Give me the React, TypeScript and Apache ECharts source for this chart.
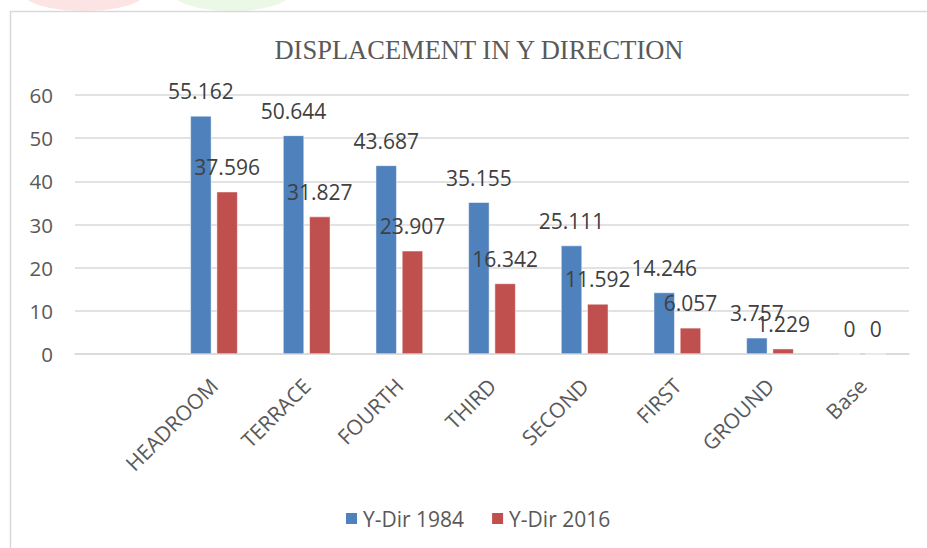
import React, { useEffect, useRef } from "react";
import * as echarts from "echarts";

const categories = ["", "HEADROOM", "TERRACE", "FOURTH", "THIRD", "SECOND", "FIRST", "GROUND", "Base"];
const yDir1984 = [null, 55.162, 50.644, 43.687, 35.155, 25.111, 14.246, 3.757, 0];
const yDir2016 = [null, 37.596, 31.827, 23.907, 16.342, 11.592, 6.057, 1.229, 0];
const seriesNames = ["Y-Dir 1984", "Y-Dir 2016"];
const titleText = "DISPLACEMENT IN Y DIRECTION";

const FONT = "'Open Sans', sans-serif";

export default function App() {
  const ref = useRef<HTMLDivElement>(null);
  useEffect(() => {
    document.body.style.margin = "0";
    const chart = echarts.init(ref.current!, null, { renderer: "svg" });
    const labelStyle = {
      show: true,
      position: "top" as const,
      distance: 14,
      fontFamily: FONT,
      fontSize: 21,
      color: "#404040",
      formatter: (p: any) => String(p.value),
    };
    chart.setOption({
      animation: false,
      backgroundColor: "#ffffff",
      title: {
        text: titleText,
        left: 474,
        textAlign: "center",
        top: 31,
        textStyle: {
          fontFamily: "'Liberation Serif', 'Times New Roman', serif",
          fontSize: 26.5,
          fontWeight: "normal",
          color: "#595959",
        },
      },
      graphic: [
        { type: "ellipse", shape: { cx: 84, cy: -8, rx: 62, ry: 19 }, style: { fill: "#fde4e4" }, silent: true },
        { type: "ellipse", shape: { cx: 232, cy: -8, rx: 60, ry: 19 }, style: { fill: "#ecf8e6" }, silent: true },
        {
          type: "rect",
          shape: { x: 10.5, y: 11.5, width: 940, height: 560 },
          style: { fill: "none", stroke: "#d9d9d9", lineWidth: 1.5 },
          silent: true,
        },
      ],
      grid: { left: 75, right: 18, top: 95, bottom: 194, containLabel: false },
      legend: {
        top: 503,
        left: 339,
        itemWidth: 13,
        itemHeight: 13,
        itemGap: 26,
        icon: "rect",
        textStyle: { fontFamily: FONT, fontSize: 21, color: "#595959" },
        data: seriesNames,
      },
      xAxis: {
        type: "category",
        data: categories,
        axisTick: { show: false },
        axisLine: { lineStyle: { color: "#d9d9d9", width: 1.5 } },
        axisLabel: {
          rotate: 45,
          margin: 28,
          interval: 0,
          fontFamily: FONT,
          fontSize: 21,
          color: "#595959",
        },
      },
      yAxis: {
        type: "value",
        min: 0,
        max: 60,
        interval: 10,
        axisLine: { show: false },
        axisTick: { show: false },
        splitLine: { lineStyle: { color: "#d9d9d9", width: 1.5 } },
        axisLabel: { margin: 22, fontFamily: FONT, fontSize: 20.5, color: "#595959" },
      },
      series: [
        {
          name: seriesNames[0],
          type: "bar",
          data: yDir1984,
          barWidth: 21,
          barGap: "25%",
          itemStyle: { color: "#4f81bd", borderColor: "#ffffff", borderWidth: 0.5 },
          label: labelStyle,
        },
        {
          name: seriesNames[1],
          type: "bar",
          data: yDir2016,
          barWidth: 21,
          itemStyle: { color: "#c0504d", borderColor: "#ffffff", borderWidth: 0.5 },
          label: labelStyle,
        },
      ],
    });
    return () => chart.dispose();
  }, []);
  return <div ref={ref} style={{ width: 927, height: 548 }} />;
}
